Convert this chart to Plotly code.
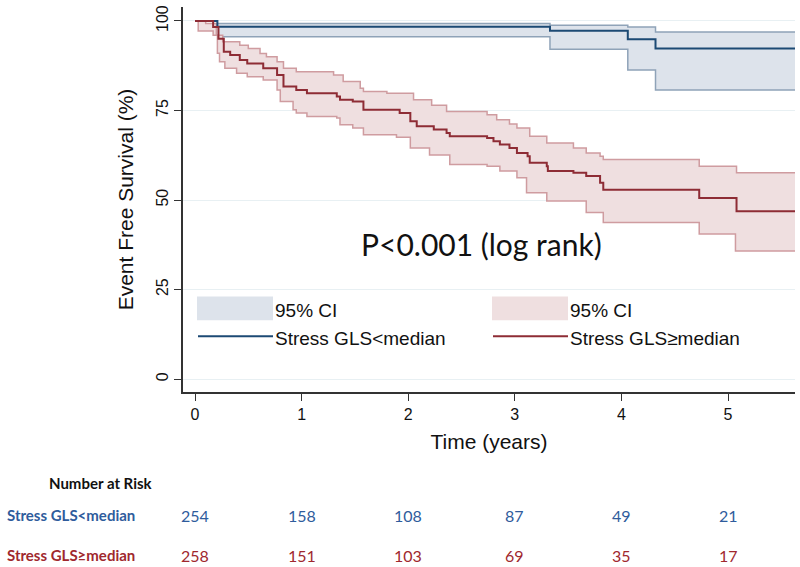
import plotly.graph_objects as go

# ---------------- data ----------------
# Stress GLS < median
blue_t = [0, 0.21, 3.33, 4.06, 4.32, 5.63]
blue_s = [100, 98.4, 97.3, 94.9, 92.3, 92.3]
blue_ci_t = [0.21, 3.33, 4.06, 4.32, 5.63]
blue_lo = [95.6, 92.1, 86.3, 80.7, 80.7]
blue_hi = [99.3, 98.8, 98.3, 96.9, 96.9]

# Stress GLS >= median
red_t = [0, 0.17, 0.22, 0.27, 0.33, 0.42, 0.49, 0.64, 0.77, 0.83, 0.95, 1.05,
         1.33, 1.36, 1.48, 1.58, 1.92, 2.02, 2.08, 2.24, 2.36, 2.39, 2.74, 2.80,
         2.86, 2.95, 3.02, 3.12, 3.14, 3.30, 3.31, 3.55, 3.67, 3.80, 3.83, 4.73,
         5.08, 5.63]
red_s = [100, 98.3, 95.0, 91.4, 90.5, 89.1, 88.1, 86.8, 84.9, 81.7, 80.7, 79.8,
         78.9, 78.0, 77.5, 75.2, 74.3, 72.0, 70.6, 69.7, 68.7, 67.8, 67.3, 66.4,
         65.5, 64.5, 63.1, 62.2, 60.4, 59.4, 58.1, 57.6, 56.7, 54.8, 52.9, 50.6,
         46.9, 46.9]
red_hi_t = [0, 0.10, 0.20, 0.26, 0.42, 0.50, 0.61, 0.67, 0.77, 0.83, 0.95, 1.30,
            1.39, 1.55, 1.58, 1.80, 2.05, 2.22, 2.36, 2.74, 2.83, 2.95, 3.02,
            3.14, 3.30, 3.55, 3.67, 3.80, 3.83, 4.73, 5.08, 5.63]
red_hi = [100, 99.3, 96.0, 94.2, 93.2, 92.3, 90.9, 90.0, 88.6, 86.8, 85.8, 84.9,
          83.1, 81.2, 80.3, 79.8, 78.0, 76.5, 74.7, 73.8, 72.4, 71.2, 70.1,
          67.8, 65.9, 64.5, 63.1, 62.2, 61.3, 59.4, 57.6, 57.6]
red_lo_t = [0, 0.03, 0.17, 0.21, 0.23, 0.28, 0.39, 0.49, 0.64, 0.77, 0.80, 0.92,
            0.95, 1.05, 1.33, 1.36, 1.48, 1.58, 1.89, 2.02, 2.20, 2.39, 2.74,
            2.86, 3.02, 3.11, 3.30, 3.67, 3.83, 4.73, 5.07, 5.63]
red_lo = [100, 97.2, 96.0, 91.0, 88.6, 86.8, 85.4, 84.4, 83.5, 80.7, 77.5, 75.2,
          74.3, 73.3, 72.9, 71.0, 70.1, 68.2, 67.5, 64.5, 62.6, 59.9, 59.4,
          58.1, 56.2, 52.0, 49.7, 46.5, 43.7, 40.5, 35.8, 35.8]

# Number at risk table
risk_times = [0, 1, 2, 3, 4, 5]
risk_blue = [254, 158, 108, 87, 49, 21]
risk_red = [258, 151, 103, 69, 35, 17]

x_ticks = [0, 1, 2, 3, 4, 5]
y_ticks = [0, 25, 50, 75, 100]

group_lo_name = "Stress GLS<median"
group_hi_name = "Stress GLS\u2265median"

# ---------------- styling ----------------
BLUE = "#1c4a74"
BLUE_FILL = "#dde3eb"
BLUE_EDGE = "#8fa3b8"
RED = "#8e2c35"
RED_FILL = "#efdfe0"
RED_EDGE = "#cf9ca0"
TXT_BLUE = "#2f5c9c"
TXT_RED = "#a0282e"
AX_FONT = "Liberation Sans, Arial, sans-serif"
TBL_FONT = "Lato, Open Sans, sans-serif"

fig = go.Figure()

# confidence bands
fig.add_trace(go.Scatter(x=blue_ci_t, y=blue_lo, mode="lines", line_shape="hv",
                         line=dict(color=BLUE_EDGE, width=1.5), hoverinfo="skip"))
fig.add_trace(go.Scatter(x=blue_ci_t, y=blue_hi, mode="lines", line_shape="hv",
                         line=dict(color=BLUE_EDGE, width=1.5), fill="tonexty",
                         fillcolor=BLUE_FILL, hoverinfo="skip"))
fig.add_trace(go.Scatter(x=red_lo_t, y=red_lo, mode="lines", line_shape="hv",
                         line=dict(color=RED_EDGE, width=1.5), hoverinfo="skip"))
fig.add_trace(go.Scatter(x=red_hi_t, y=red_hi, mode="lines", line_shape="hv",
                         line=dict(color=RED_EDGE, width=1.5), fill="tonexty",
                         fillcolor=RED_FILL, hoverinfo="skip"))

# survival curves
fig.add_trace(go.Scatter(x=blue_t, y=blue_s, mode="lines", line_shape="hv",
                         line=dict(color=BLUE, width=2), name=group_lo_name))
fig.add_trace(go.Scatter(x=red_t, y=red_s, mode="lines", line_shape="hv",
                         line=dict(color=RED, width=2), name=group_hi_name))

# ---------------- manual legend (paper coords) ----------------
def px_x(px):
    return (px - 183) / 612.0

def px_y(py):
    return (392 - py) / 387.0

shapes = []
annotations = []
for x0, fillc, linec, name in [(197, BLUE_FILL, BLUE, group_lo_name),
                               (492, RED_FILL, RED, group_hi_name)]:
    shapes.append(dict(type="rect", xref="paper", yref="paper",
                       x0=px_x(x0), x1=px_x(x0 + 76), y0=px_y(320), y1=px_y(296),
                       fillcolor=fillc, line=dict(width=0), layer="above"))
    shapes.append(dict(type="line", xref="paper", yref="paper",
                       x0=px_x(x0 + 1), x1=px_x(x0 + 76), y0=px_y(336), y1=px_y(336),
                       line=dict(color=linec, width=2)))
    annotations.append(dict(xref="paper", yref="paper", x=px_x(x0 + 76), y=px_y(310),
                            text="95% CI", showarrow=False, xanchor="left",
                            yanchor="middle", font=dict(family=AX_FONT, size=19, color="#111")))
    annotations.append(dict(xref="paper", yref="paper", x=px_x(x0 + 76), y=px_y(338),
                            text=name, showarrow=False, xanchor="left",
                            yanchor="middle", font=dict(family=AX_FONT, size=19, color="#111")))

# p-value
annotations.append(dict(xref="x", yref="y", x=2.69, y=37.8, text="P<0.001 (log rank)",
                        showarrow=False, font=dict(family=TBL_FONT, size=30, color="#111")))

# number at risk table
annotations.append(dict(xref="paper", yref="paper", x=px_x(47), y=px_y(483),
                        text="<b>Number at Risk</b>", showarrow=False, xanchor="left",
                        yanchor="middle", font=dict(family=TBL_FONT, size=15, color="#111")))
for name, vals, col, py in [(group_lo_name, risk_blue, TXT_BLUE, 516),
                            (group_hi_name, risk_red, TXT_RED, 556)]:
    annotations.append(dict(xref="paper", yref="paper", x=px_x(5), y=px_y(py),
                            text="<b>" + name + "</b>", showarrow=False, xanchor="left",
                            yanchor="middle", font=dict(family=TBL_FONT, size=15, color=col)))
    for t, v in zip(risk_times, vals):
        annotations.append(dict(xref="x", yref="paper", x=t, y=px_y(py), text=str(v),
                                showarrow=False, xanchor="center", yanchor="middle",
                                font=dict(family=TBL_FONT, size=16, color=col)))

fig.update_layout(
    width=800, height=567,
    margin=dict(l=183, r=5, t=5, b=175),
    paper_bgcolor="white", plot_bgcolor="white",
    showlegend=False,
    shapes=shapes, annotations=annotations,
    xaxis=dict(range=[-0.1126, 5.6285], tickvals=x_ticks, ticks="outside", ticklen=7,
               tickwidth=1.3, tickcolor="#333", showline=True, linecolor="#333",
               linewidth=1.5, showgrid=False, zeroline=False,
               tickfont=dict(family=AX_FONT, size=16, color="#111"),
               title=dict(text="Time (years)", standoff=12,
                          font=dict(family=AX_FONT, size=21, color="#111"))),
    yaxis=dict(range=[-3.6, 103.9], tickvals=y_ticks, ticks="outside", ticklen=7,
               tickwidth=1.3, tickcolor="#333", showline=True, linecolor="#333",
               linewidth=1.5, showgrid=True, gridcolor="#e8f0f3", gridwidth=1,
               zeroline=False, tickangle=-90,
               tickfont=dict(family=AX_FONT, size=16, color="#111"),
               title=dict(text="Event Free Survival (%)", standoff=14,
                          font=dict(family=AX_FONT, size=21, color="#111"))),
)

fig.write_html("out.html", config={"displayModeBar": False},
               post_script="document.body.style.margin='0';document.body.style.padding='0';")
